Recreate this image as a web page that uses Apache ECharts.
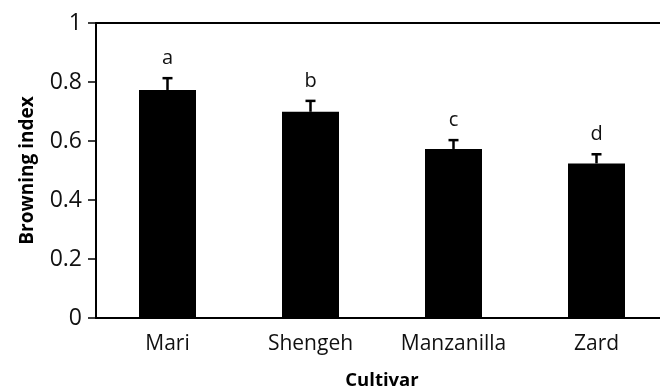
<!DOCTYPE html>
<html>
<head>
<meta charset="utf-8">
<style>
  html, body { margin: 0; padding: 0; background: #fff; }
  #chart { width: 660px; height: 388px; }
</style>
<script src="https://cdn.jsdelivr.net/npm/echarts@6/dist/echarts.min.js"></script>
</head>
<body>
<div id="chart"></div>
<script>
// Browning index by cultivar (mean with upper error bar and significance letter)
const cultivars = ['Mari', 'Shengeh', 'Manzanilla', 'Zard'];
const browningIndex = [0.773, 0.699, 0.573, 0.524];
const errorValues = [0.040, 0.037, 0.030, 0.031];
const groupLetters = ['a', 'b', 'c', 'd'];
const yTicks = [0, 0.2, 0.4, 0.6, 0.8, 1];

const FONT = '"Open Sans", "Liberation Sans", sans-serif';
const chart = echarts.init(document.getElementById('chart'), null, { renderer: 'canvas' });

const errData = cultivars.map((c, i) => [i, browningIndex[i], browningIndex[i] + errorValues[i]]);

chart.setOption({
  animation: false,
  backgroundColor: '#fff',
  // plot area runs slightly past the right edge of the canvas; keep it unshrunk
  grid: { left: 96, top: 23, width: 572, height: 295, containLabel: false, outerBoundsMode: 'none' },
  xAxis: [{
    type: 'category',
    data: cultivars,
    name: 'Cultivar',
    nameLocation: 'middle',
    nameGap: 53,
    nameTextStyle: { fontFamily: FONT, fontSize: 18.5, fontWeight: 'bold', color: '#000' },
    axisLine: { show: true, lineStyle: { color: '#000', width: 2 } },
    axisTick: { show: false },
    axisLabel: { fontFamily: FONT, fontSize: 21, color: '#111', margin: 16 },
    splitLine: { show: false }
  }, {
    // upper frame line of the plot area
    type: 'category',
    data: cultivars,
    position: 'top',
    axisLine: { show: true, lineStyle: { color: '#000', width: 2 } },
    axisTick: { show: false },
    axisLabel: { show: false }
  }],
  yAxis: {
    type: 'value',
    min: 0,
    max: 1,
    interval: 0.2,
    name: 'Browning index',
    nameLocation: 'middle',
    nameGap: 59,
    nameTextStyle: { fontFamily: FONT, fontSize: 19, fontWeight: 'bold', color: '#000' },
    axisLine: { show: true, lineStyle: { color: '#000', width: 2 } },
    axisTick: { show: true, length: 8, lineStyle: { color: '#000', width: 1.5 } },
    axisLabel: {
      fontFamily: FONT, fontSize: 23, color: '#111', margin: 14,
      formatter: v => {
        const t = yTicks.find(k => Math.abs(k - v) < 1e-9);
        return t === undefined ? '' : String(t);
      }
    },
    splitLine: { show: false }
  },
  series: [{
    type: 'bar',
    data: browningIndex,
    barWidth: 57,
    itemStyle: { color: '#000' },
    z: 2
  }, {
    type: 'custom',
    data: errData,
    z: 3,
    renderItem: (params, api) => {
      const x = api.coord([api.value(0), 0])[0];
      const yBar = api.coord([api.value(0), api.value(1)])[1];
      const yTop = api.coord([api.value(0), api.value(2)])[1];
      const cap = 5;
      return {
        type: 'group',
        children: [
          { type: 'line', shape: { x1: x, y1: yBar, x2: x, y2: yTop }, style: { stroke: '#000', lineWidth: 2.5 } },
          { type: 'line', shape: { x1: x - cap, y1: yTop, x2: x + cap, y2: yTop }, style: { stroke: '#000', lineWidth: 2.5 } },
          { type: 'text', style: { x: x, y: yTop - 10, text: groupLetters[params.dataIndex], fill: '#111', font: '20px ' + FONT, align: 'center', verticalAlign: 'bottom' } }
        ]
      };
    }
  }]
});
</script>
</body>
</html>
